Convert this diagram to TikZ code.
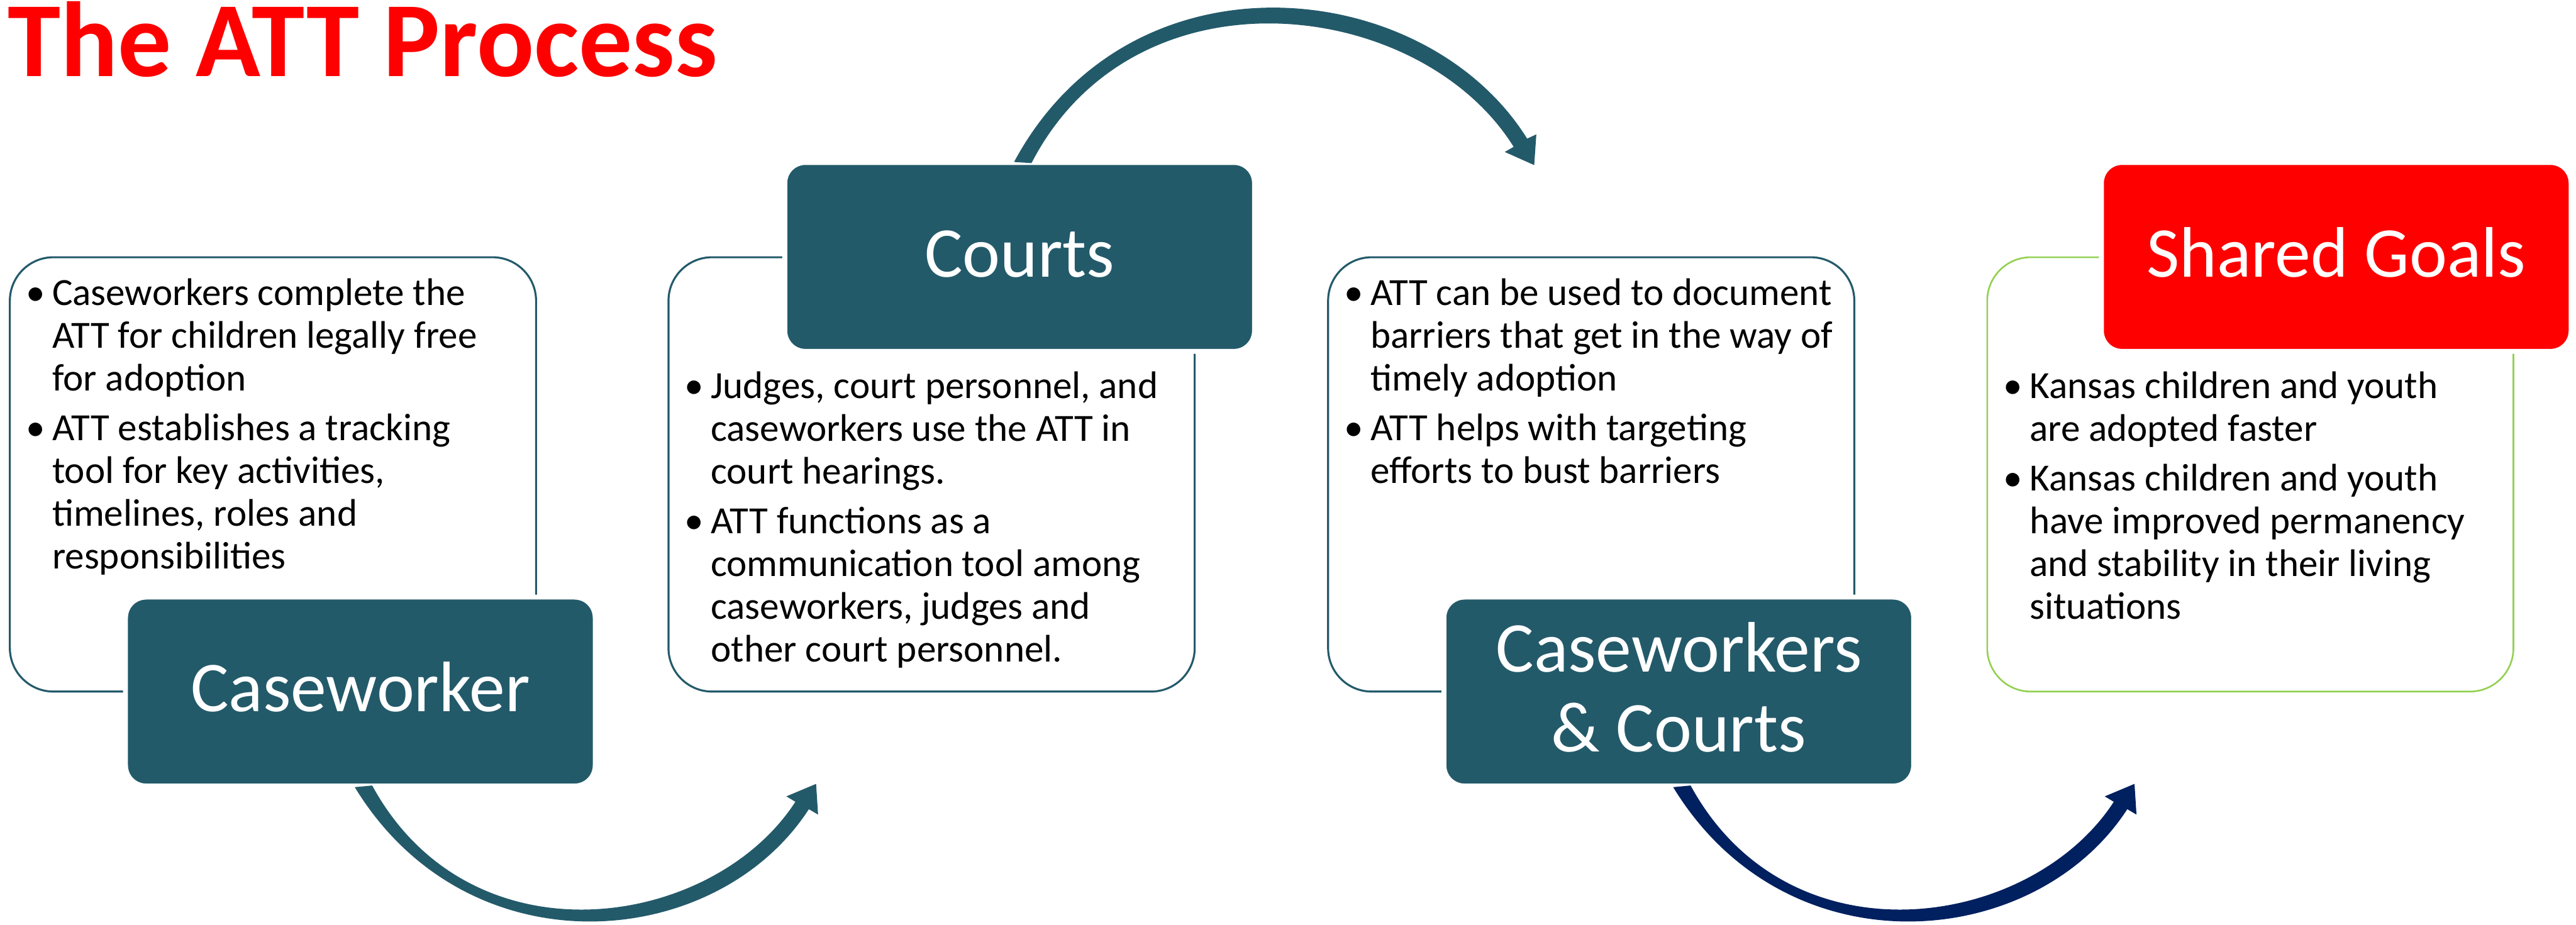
\documentclass[tikz,border=0pt]{standalone}
\usepackage{fontspec}
\setmainfont{Carlito}
\usepackage{tikz}
\usetikzlibrary{calc}
\definecolor{slate}{RGB}{35,90,106}
\definecolor{navy}{RGB}{0,32,96}
\definecolor{leaf}{RGB}{146,208,80}
\newcommand{\bodyfont}{\fontsize{23.4pt}{26pt}\selectfont}
\newcommand{\headfont}{\fontsize{43.5pt}{48.7pt}\selectfont}
\newcommand{\titlefont}{\fontsize{65pt}{72pt}\selectfont\bfseries}
\newcommand{\bul}{\llap{\makebox[20.2pt]{\textbullet}}}
% tapered arc arrows: #1 node it leaves, #2 colour
\newcommand{\bendDown}[2]{\begin{scope}[shift={(#1.south)}] \fill[#2] (-3.4,0.7) .. controls (65.8,114.2) and (216.8,100.8) .. (273,14.1) -- (278.6,17.4) -- (277.4,-1.3) -- (259.3,6.3) -- (264.8,9.6) .. controls (214.5,87.2) and (67.4,110.1) .. (7.2,-0.3) -- cycle; \end{scope}}
\newcommand{\bendUp}[2]{\begin{scope}[shift={(#1.north)}] \fill[#2] (-3.4,-0.3) .. controls (67.9,-132.9) and (247.3,-113.5) .. (308.9,-14.5) -- (314.5,-17.1) -- (313.2,1.6) -- (295.3,-6.4) -- (300.7,-9.5) .. controls (244.3,-100.2) and (70.6,-122.3) .. (7.2,0.4) -- cycle; \end{scope}}
\tikzset{
  listbox/.style={draw=slate, line width=1.2pt, rounded corners=26.5pt, minimum width=320.3pt, minimum height=264.4pt, anchor=north west, outer sep=0pt, inner sep=0pt},
  headbox/.style={fill=slate, draw=white, line width=3pt, rounded corners=12.5pt, minimum width=285.9pt, minimum height=115pt, anchor=north west, outer sep=0pt, inner sep=0pt, text=white, font=\headfont, align=center, text height=28pt, text depth=3.4pt},
  bullets/.style={anchor=base west, inner sep=0pt, font=\bodyfont}
}

\begin{document}
\begin{tikzpicture}[x=1pt, y=-1pt]
    \fill[white] (0,0) rectangle (1568,563);
    \useasboundingbox (0,0) rectangle (1568,563);
    \node[anchor=base west, inner sep=0pt, text=red, font=\titlefont] (title) at (4.5,46.5) {The ATT Process};
    % outlined boxes
    \node[listbox] (cwbox) at (6,156.6) {};
    \node[listbox] (crbox) at (406.9,156.6) {};
    \node[listbox] (ccbox) at (808.4,156.6) {};
    \node[listbox, draw=leaf, line width=1pt] (sgbox) at (1209.6,156.6) {};
    % bullet lists
    \node[bullets] (cwlist) at ($(cwbox.north west)+(25.6,29.4)$) {\begin{tabular}[t]{@{}l@{}}
        \bul Caseworkers complete the\\
        ATT for children legally free\\
        for adoption\\[4.3pt]
        \bul ATT establishes a tracking\\
        tool for key activities,\\
        timelines, roles and\\
        responsibilities
    \end{tabular}};
    \node[bullets] (crlist) at ($(crbox.north west)+(25.6,86)$) {\begin{tabular}[t]{@{}l@{}}
        \bul Judges, court personnel, and\\
        caseworkers use the ATT in\\
        court hearings.\\[4.3pt]
        \bul ATT functions as a\\
        communication tool among\\
        caseworkers, judges and\\
        other court personnel.
    \end{tabular}};
    \node[bullets] (cclist) at ($(ccbox.north west)+(25.6,29.4)$) {\begin{tabular}[t]{@{}l@{}}
        \bul ATT can be used to document\\
        barriers that get in the way of\\
        timely adoption\\[4.3pt]
        \bul ATT helps with targeting\\
        efforts to bust barriers
    \end{tabular}};
    \node[bullets] (sglist) at ($(sgbox.north west)+(25.6,86)$) {\begin{tabular}[t]{@{}l@{}}
        \bul Kansas children and youth\\
        are adopted faster\\[4.3pt]
        \bul Kansas children and youth\\
        have improved permanency\\
        and stability in their living\\
        situations
    \end{tabular}};
    % headings
    \node[headbox] (cw) at (76.4,363.5) {Caseworker};
    \node[headbox] (cr) at (477.7,98.9) {Courts};
    \node[headbox, text height=76.6pt] (cc) at (878.9,363.5) {Caseworkers\\\& Courts};
    \node[headbox, fill=red] (sg) at (1279.1,98.9) {Shared Goals};
    % arrows
    \bendDown{cw}{slate}
    \bendUp{cr}{slate}
    \bendDown{cc}{navy}
\end{tikzpicture}
\end{document}
